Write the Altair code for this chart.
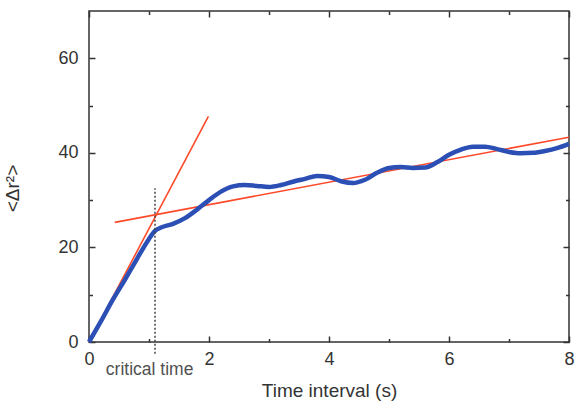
import altair as alt
import pandas as pd

# Mean squared displacement vs. time interval
t = [0, 0.2, 0.4, 0.6, 0.8, 1.0, 1.1, 1.2, 1.4, 1.6, 1.8, 2.0, 2.2, 2.4, 2.6,
     2.8, 3.0, 3.2, 3.4, 3.6, 3.8, 4.0, 4.2, 4.4, 4.6, 4.8, 5.0, 5.2, 5.4, 5.6,
     5.8, 6.0, 6.2, 6.4, 6.6, 6.8, 7.0, 7.2, 7.4, 7.6, 7.8, 8.0]
msd = [0, 4.4, 9.0, 13.2, 17.6, 21.8, 23.5, 24.2, 25.0, 26.2, 28.0, 30.0, 31.8,
       32.9, 33.2, 33.0, 32.8, 33.2, 33.9, 34.5, 35.1, 34.9, 34.0, 33.6, 34.3,
       35.8, 36.8, 37.0, 36.8, 36.9, 38.0, 39.6, 40.7, 41.3, 41.3, 40.8, 40.2,
       39.9, 40.0, 40.4, 41.0, 41.9]

# Two linear fits: fast initial regime and slow long-time regime
fit_names = ["initial", "initial", "long-time", "long-time"]
fit_x = [0.0, 1.99, 0.43, 8.0]
fit_y = [0.0, 47.7, 25.3, 43.3]

# Crossover marker
critical_t = [1.1]
marker_lo = [-2.5]
marker_hi = [32.5]
note_text = ["critical time"]
note_x = [1.01]
note_y = [-5.9]

x_major = [0, 2, 4, 6, 8]
x_minor = [1, 3, 5, 7]
y_major = [0, 20, 40, 60]
y_minor = [10, 30, 50]

W, H = 480, 331
FONT = "Liberation Sans"
INK = "#333333"
MAJOR, MINOR = 6, 3.5

curve = pd.DataFrame({"t": t, "msd": msd})
fits = pd.DataFrame({"fit": fit_names, "t": fit_x, "msd": fit_y})
marker = pd.DataFrame({"t": critical_t, "lo": marker_lo, "hi": marker_hi})
note = pd.DataFrame({"t": note_x, "msd": note_y, "label": note_text})

xs = alt.Scale(domain=[0, 8], nice=False, zero=False)
ys = alt.Scale(domain=[0, 70], nice=False)


def tick_axis(orient, offset, values, size):
    # unlabeled axis moved onto the opposite edge so that its ticks point inward
    return alt.Axis(orient=orient, offset=offset, values=values, labels=False,
                    domain=False, grid=False, title=None, ticks=True,
                    tickSize=size, tickColor=INK, tickWidth=1.5)


# Labelled axes: also flipped so their ticks point inward; labels and titles
# are pulled back outside the frame.
x_main = alt.Axis(
    orient="top", offset=-H, values=x_major, domain=False, grid=False,
    ticks=True, tickSize=MAJOR, tickColor=INK, tickWidth=1.5,
    labelFlush=False, labelPadding=-(MAJOR + 8), labelBaseline="top",
    labelFont=FONT, labelFontSize=18, labelColor=INK,
    title="Time interval (s)", titleFont=FONT, titleFontSize=19,
    titleFontWeight="normal", titleColor=INK, titleBaseline="top", titleY=39,
)
y_main = alt.Axis(
    orient="right", offset=-W, values=y_major, domain=False, grid=False,
    ticks=True, tickSize=MAJOR, tickColor=INK, tickWidth=1.5,
    labelFlush=False, labelPadding=-(MAJOR + 11), labelAlign="right",
    labelBaseline="middle", labelFont=FONT, labelFontSize=18, labelColor=INK,
    title="<Δr²>", titleFont=FONT, titleFontSize=19, titleFontWeight="normal",
    titleColor=INK, titleAngle=270, titleAlign="center", titleBaseline="middle",
    titleX=-77, titleY=177,
)

line = alt.Chart(curve).mark_line(
    color="#2b4fb4", strokeWidth=4.5, interpolate="monotone"
).encode(
    x=alt.X("t:Q", scale=xs, axis=x_main),
    y=alt.Y("msd:Q", scale=ys, axis=y_main),
)

fit_lines = alt.Chart(fits).mark_line(color="#ff4a2a", strokeWidth=1.6).encode(
    x=alt.X("t:Q", scale=xs, axis=tick_axis("top", -H, x_minor, MINOR)),
    y=alt.Y("msd:Q", scale=ys, axis=tick_axis("right", -W, y_minor, MINOR)),
    detail="fit:N",
)

crit = alt.Chart(marker).mark_rule(
    color="#444444", strokeWidth=1.5, strokeDash=[2, 2]
).encode(
    x=alt.X("t:Q", scale=xs, axis=tick_axis("bottom", -H, x_major, MAJOR)),
    y=alt.Y("lo:Q", scale=ys, axis=tick_axis("left", -W, y_major, MAJOR)),
    y2="hi:Q",
)

label = alt.Chart(note).mark_text(
    font=FONT, fontSize=17.5, color="#505050",
    baseline="middle", align="center"
).encode(
    x=alt.X("t:Q", scale=xs, axis=tick_axis("bottom", -H, x_minor, MINOR)),
    y=alt.Y("msd:Q", scale=ys, axis=tick_axis("left", -W, y_minor, MINOR)),
    text="label:N",
)

chart = alt.layer(fit_lines, line, crit, label).resolve_axis(
    x="independent", y="independent"
).properties(
    width=W, height=H,
    autosize=alt.AutoSizeParams(type="none"),
    padding={"left": 89, "top": 11, "right": 9, "bottom": 60},
).configure_view(stroke=INK, strokeWidth=1.5)

chart.save("out.html", embed_options={"renderer": "svg", "actions": False})
